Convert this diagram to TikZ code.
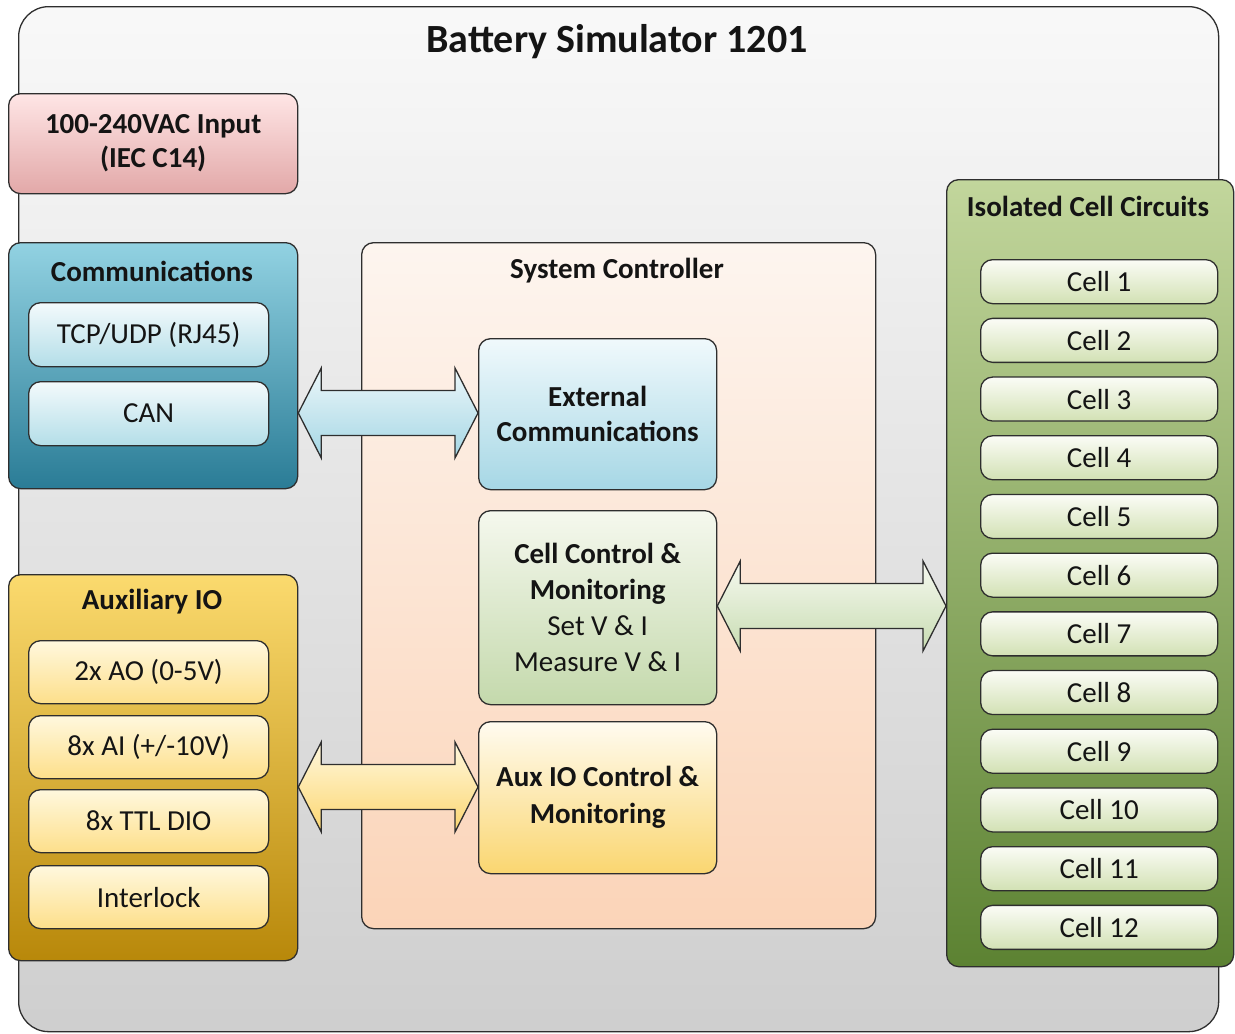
\documentclass[tikz,border=0pt]{standalone}
\usepackage{fontspec}
\setmainfont{Carlito}
\usetikzlibrary{calc}
\definecolor{edge}{HTML}{2E2E2E}
\definecolor{txt}{HTML}{141414}
\newcommand\rsz{\fontsize{29}{33}\selectfont}
\newcommand\bsz{\bfseries\fontsize{29}{33}\selectfont}
\tikzset{
  x=1pt, y=-1pt,
  box/.style={draw=edge, line width=1.3pt, rounded corners=12pt, anchor=north west, inner sep=0pt, text=txt},
  cellbox/.style={box, minimum width=237pt, minimum height=44pt, top color=cellT, bottom color=cellB, font=\rsz},
  auxitem/.style={box, minimum width=240pt, minimum height=63pt, top color=auxiT, bottom color=auxiB, font=\rsz},
  commitem/.style={box, minimum width=240pt, minimum height=64pt, top color=comiT, bottom color=comiB, font=\rsz},
  heading/.style={text=txt, font=\bsz, inner sep=0pt},
  arrowline/.style={draw=edge, line width=1.3pt, line join=miter},
}
\definecolor{cellT}{HTML}{FBFCF6}
\definecolor{cellB}{HTML}{D2E1B4}
\definecolor{auxiT}{HTML}{FFF8DE}
\definecolor{auxiB}{HTML}{FDDF8A}
\definecolor{comiT}{HTML}{F3FAFC}
\definecolor{comiB}{HTML}{B3DEE8}
\newcommand\blockarrow[4]{% left anchor, right anchor, y coordinate, shading
  \path[arrowline,#4] let \p1=(#1), \p2=(#2), \p3=(#3) in
    (\x1,\y3) -- (\x1+23pt,\y3+45pt) -- (\x1+23pt,\y3+22.5pt) -- (\x2-23pt,\y3+22.5pt)
    -- (\x2-23pt,\y3+45pt) -- (\x2,\y3) -- (\x2-23pt,\y3-45pt) -- (\x2-23pt,\y3-22.5pt)
    -- (\x1+23pt,\y3-22.5pt) -- (\x1+23pt,\y3-45pt) -- cycle;}
\begin{document}
\begin{tikzpicture}
\useasboundingbox (0,0) rectangle (1235,1034);
% outer box
\node[box, rounded corners=30pt, minimum width=1200pt, minimum height=1025pt, top color=white!95!gray, bottom color=black!19] (outer) at (18,6) {};
\node[heading, font=\bfseries\fontsize{40}{44}\selectfont] (title) at (617,42) {Battery Simulator 1201};
% AC input
\node[box, minimum width=289pt, minimum height=100pt, top color=red!10, bottom color={rgb,255:red,226;green,168;blue,168}, align=center, font=\bfseries\fontsize{29}{34}\selectfont] (ac) at (8,93) {100-240VAC Input\\(IEC C14)};
% Communications
\node[box, minimum width=289pt, minimum height=246pt, top color={rgb,255:red,146;green,210;blue,226}, bottom color={rgb,255:red,42;green,124;blue,150}] (comm) at (8,242) {};
\node[heading] (commt) at (152,271) {Communications};
\node[commitem] (tcp) at (28,302) {TCP/UDP (RJ45)};
\node[commitem] (can) at (28,381) {CAN};
% Auxiliary IO
\node[box, minimum width=289pt, minimum height=386pt, top color={rgb,255:red,251;green,218;blue,110}, middle color={rgb,255:red,246;green,188;blue,16}, bottom color={rgb,255:red,184;green,136;blue,10}] (aux) at (8,574) {};
\node[heading] (auxt) at (152,602) {Auxiliary IO};
\node[auxitem] (ao) at (28,640) {2x AO (0-5V)};
\node[auxitem] (ai) at (28,715) {8x AI (+/-10V)};
\node[auxitem] (dio) at (28,789) {8x TTL DIO};
\node[auxitem] (intl) at (28,865) {Interlock};
% System controller
\node[box, minimum width=514pt, minimum height=686pt, top color={rgb,255:red,253;green,245;blue,239}, bottom color={rgb,255:red,251;green,212;blue,184}] (sys) at (361,242) {};
\node[heading] (syst) at (617,271) {System Controller};
\node[box, minimum width=238pt, minimum height=151pt, top color={rgb,255:red,240;green,249;blue,252}, bottom color={rgb,255:red,166;green,215;blue,229}, align=center, font=\bfseries\fontsize{29}{35}\selectfont] (ext) at (478,338) {External\\Communications};
\node[box, minimum width=238pt, minimum height=194pt, top color={rgb,255:red,245;green,248;blue,238}, bottom color={rgb,255:red,196;green,217;blue,172}, align=center, font=\fontsize{29}{36}\selectfont] (cellctl) at (478,510) {\textbf{Cell Control \&}\\\textbf{Monitoring}\\Set V \& I\\Measure V \& I};
\node[box, minimum width=238pt, minimum height=152pt, top color={rgb,255:red,255;green,251;blue,240}, bottom color={rgb,255:red,250;green,214;blue,112}, align=center, font=\bfseries\fontsize{29}{37}\selectfont] (auxctl) at (478,721) {Aux IO Control \&\\Monitoring};
% Isolated cell circuits
\node[box, minimum width=287pt, minimum height=787pt, top color={rgb,255:red,194;green,214;blue,156}, middle color={rgb,255:red,150;green,184;blue,88}, bottom color={rgb,255:red,92;green,130;blue,50}] (iso) at (946,179) {};
\node[heading] (isot) at (1088,206) {Isolated Cell Circuits};
\foreach \i in {1,...,12}{
  \node[cellbox] (cell\i) at (980,{259+(\i-1)*58.7}) {Cell \i};
}
% arrows
\coordinate (ya) at (0,413);
\coordinate (yb) at (0,606);
\coordinate (yc) at (0,787);
\blockarrow{comm.east}{ext.west}{ya}{top color={rgb,255:red,236;green,247;blue,250}, bottom color={rgb,255:red,164;green,214;blue,228}}
\blockarrow{cellctl.east}{iso.west}{yb}{top color={rgb,255:red,246;green,249;blue,240}, bottom color={rgb,255:red,200;green,220;blue,178}}
\blockarrow{aux.east}{auxctl.west}{yc}{top color={rgb,255:red,255;green,248;blue,222}, bottom color={rgb,255:red,252;green,214;blue,112}}
\end{tikzpicture}
\end{document}
